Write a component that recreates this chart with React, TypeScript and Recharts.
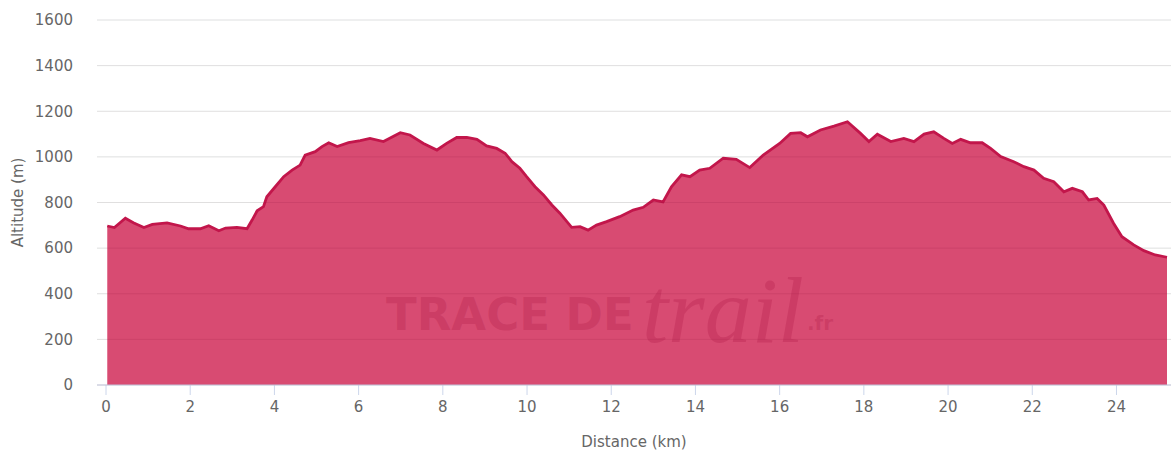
import { AreaChart, Area, XAxis, YAxis, CartesianGrid } from "recharts";

const distanceKm = [
  0.03, 0.2, 0.46, 0.65, 0.9, 1.1, 1.45, 1.77, 1.96, 2.24, 2.44, 2.68, 2.84, 3.11, 3.35,
  3.47, 3.59, 3.74, 3.82, 4.02, 4.22, 4.42, 4.61, 4.73, 4.97, 5.13, 5.29, 5.49, 5.76, 6.04,
  6.27, 6.59, 6.99, 7.22, 7.54, 7.86, 8.09, 8.33, 8.57, 8.81, 9.04, 9.28, 9.48, 9.64, 9.83,
  9.99, 10.19, 10.39, 10.59, 10.78, 11.06, 11.26, 11.45, 11.65, 11.89, 12.2, 12.52, 12.76, 13.0, 13.23,
  13.43, 13.67, 13.87, 14.1, 14.34, 14.66, 14.97, 15.29, 15.61, 16.0, 16.26, 16.5, 16.66, 16.97, 17.29,
  17.61, 17.92, 18.12, 18.32, 18.64, 18.95, 19.19, 19.43, 19.66, 19.9, 20.1, 20.3, 20.53, 20.81, 21.01,
  21.25, 21.56, 21.8, 22.04, 22.27, 22.51, 22.75, 22.95, 23.19, 23.34, 23.54, 23.7, 23.93, 24.13, 24.41,
  24.65, 24.92, 25.2,
];

const altitudeM = [
  697, 690, 731, 711, 690, 704, 711, 697, 685, 685, 698, 676, 688, 691, 685,
  723, 764, 782, 825, 869, 913, 942, 964, 1008, 1023, 1045, 1062, 1045, 1062, 1071,
  1081, 1067, 1106, 1096, 1059, 1030, 1059, 1085, 1085, 1077, 1048, 1037, 1016, 979, 950,
  913, 869, 833, 789, 753, 691, 694, 679, 701, 716, 738, 767, 779, 811, 803,
  869, 921, 913, 942, 950, 994, 989, 953, 1008, 1059, 1103, 1106, 1088, 1118, 1135,
  1154, 1103, 1067, 1099, 1067, 1081, 1067, 1100, 1110, 1081, 1059, 1077, 1062, 1062, 1037,
  1001, 979, 957, 942, 906, 891, 847, 862, 847, 811, 818, 789, 709, 650, 614,
  589, 570, 560,
];

const xTicks = [0, 2, 4, 6, 8, 10, 12, 14, 16, 18, 20, 22, 24];
const yTicks = [0, 200, 400, 600, 800, 1000, 1200, 1400, 1600];

const profile = distanceKm.map((d, i) => ({ distance: d, altitude: altitudeM[i] }));

const FONT = "'DejaVu Sans', sans-serif";
const TEXT = "#666666";

export default function App() {
  return (
    <div style={{ position: "absolute", left: 0, top: 0, width: 1171, height: 452, background: "#fff", fontFamily: FONT }}>
      <AreaChart width={1171} height={452} data={profile} margin={{ top: 20, right: 0, bottom: 0, left: 0 }}>
        <CartesianGrid horizontal vertical={false} stroke="#eefdf8" />
        <XAxis
          dataKey="distance"
          type="number"
          domain={[0, 25.2]}
          ticks={xTicks}
          padding={{ left: 9, right: 4 }}
          height={67}
          stroke="#ccd6eb"
          tickSize={10}
          tickMargin={6}
          tick={{ fill: TEXT, fontSize: 15, fontFamily: FONT }}
          label={(props: any) => {
            const vb = props.viewBox;
            return (
              <text x={vb.x + vb.width / 2} y={442} textAnchor="middle" dominantBaseline="central" fill={TEXT} fontSize={15} fontFamily={FONT}>
                Distance (km)
              </text>
            );
          }}
        />
        <YAxis
          type="number"
          domain={[0, 1600]}
          ticks={yTicks}
          width={97}
          axisLine={false}
          tickLine={false}
          tickSize={0}
          tickMargin={24}
          tick={{ fill: TEXT, fontSize: 15, fontFamily: FONT }}
          label={(props: any) => {
            const vb = props.viewBox;
            const cy = vb.y + vb.height / 2;
            return (
              <text x={18} y={cy} transform={`rotate(-90, 18, ${cy})`} textAnchor="middle" dominantBaseline="central" fill={TEXT} fontSize={15} fontFamily={FONT}>
                Altitude (m)
              </text>
            );
          }}
        />
        <Area
          type="linear"
          dataKey="altitude"
          stroke="#c2164b"
          strokeWidth={2.8}
          fill="#d84b72"
          fillOpacity={1}
          isAnimationActive={false}
        />
        <CartesianGrid horizontal vertical={false} stroke="rgba(120,10,50,0.12)" zIndex={500} />
      </AreaChart>
      <div style={{ position: "absolute", left: 386, top: 250, width: 470, height: 130, pointerEvents: "none", color: "rgba(170,20,65,0.26)" }}>
        <span style={{ position: "absolute", left: 0, top: 42, fontFamily: FONT, fontWeight: 700, fontSize: 45, lineHeight: "46px", whiteSpace: "nowrap" }}>TRACE DE</span>
        <span style={{ position: "absolute", left: 256, top: 0, fontFamily: "'Liberation Serif', serif", fontStyle: "italic", fontSize: 94, lineHeight: "120px", whiteSpace: "nowrap" }}>trail</span>
        <span style={{ position: "absolute", left: 421, top: 62, fontFamily: FONT, fontWeight: 700, fontSize: 20, lineHeight: "22px" }}>.fr</span>
      </div>
    </div>
  );
}
